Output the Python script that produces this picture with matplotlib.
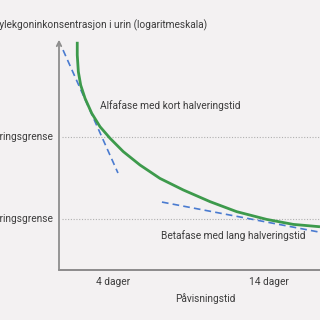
import matplotlib
matplotlib.use("Agg")
import matplotlib.pyplot as plt

# Tid i dager, konsentrasjon (vilkaarlige enheter, log-skala)
curve_days = [1.71, 1.71, 1.78, 1.93, 2.21, 2.64, 3.17, 3.81, 4.66, 5.73,
              7.01, 8.51, 10.22, 11.93, 13.85, 15.56, 17.27]
curve_conc = [14500, 10000, 6250, 4300, 2960, 1945, 1336, 966, 664, 456,
              313, 226, 163, 123, 99, 86, 80.5]

alpha_days = [0.80, 4.32]
alpha_conc = [11500, 364]
beta_days = [7.14, 17.27]
beta_conc = [161, 69]

limit_conc = [1000, 100]
limit_labels = ["Kvantifiseringsgrense", "Kvantifiseringsgrense"]

tick_days = [4, 14]
tick_labels = ["4 dager", "14 dager"]

BG = "#f3f1f2"
TXT = "#3c3c3c"
AXC = "#8e8e8e"
GREEN = "#3d9a4c"
BLUE = "#4a7bd0"
FONT = "Roboto"
FS = 7.3

W = H = 320
fig = plt.figure(figsize=(3.2, 3.2), dpi=100, facecolor=BG)
ax = fig.add_axes([59 / W, 50 / H, 261 / W, 228 / H], facecolor=BG)
ax.set_yscale("log")
ax.set_xlim(0.54, 17.27)
ax.set_ylim(23.9, 14420)

ax.plot(curve_days, curve_conc, color=GREEN, lw=2, solid_joinstyle="round",
        solid_capstyle="butt", zorder=3, clip_on=False)
ax.plot(alpha_days, alpha_conc, color=BLUE, lw=1.2, ls=(0, (4, 2.5)), zorder=2)
ax.plot(beta_days, beta_conc, color=BLUE, lw=1.2, ls=(0, (4, 2.5)), zorder=2)

for c, lab in zip(limit_conc, limit_labels):
    ax.axhline(c, xmin=0.01, color="#b0b0b0", lw=0.8, ls=(0, (1, 1.5)), zorder=1)
    ax.text(-6 / 261, ax.transAxes.inverted().transform(ax.transData.transform((1, c)))[1],
            lab, transform=ax.transAxes, ha="right", va="center",
            fontsize=FS, color=TXT, family=FONT)

for s in ["top", "right", "left"]:
    ax.spines[s].set_visible(False)
ax.spines["bottom"].set_color("#7a7a7a")
ax.spines["bottom"].set_linewidth(1.2)
ax.annotate("", xy=(0, 1.01), xytext=(0, 0), xycoords="axes fraction",
            arrowprops=dict(arrowstyle="->", color=AXC, lw=1.3,
                            shrinkA=0, shrinkB=0, mutation_scale=8))

ax.set_xticks(tick_days)
ax.set_xticklabels(tick_labels, fontsize=FS, color=TXT, family=FONT)
ax.tick_params(axis="x", length=0, pad=5)
ax.set_yticks([])
ax.minorticks_off()
ax.yaxis.set_tick_params(which="both", length=0)

fig.text(207 / W, 1 - 25 / H, "Benzoylekgoninkonsentrasjon i urin (logaritmeskala)",
         ha="right", va="center", fontsize=FS, color=TXT, family=FONT)
fig.text(205 / W, 1 - 299 / H, "Påvisningstid", ha="center", va="center",
         fontsize=FS, color=TXT, family=FONT)
fig.text(100 / W, 1 - 106 / H, "Alfafase med kort halveringstid", ha="left", va="center",
         fontsize=FS, color=TXT, family=FONT)
fig.text(161 / W, 1 - 236 / H, "Betafase med lang halveringstid", ha="left", va="center",
         fontsize=FS, color=TXT, family=FONT)

fig.savefig("out.png", dpi=100, facecolor=BG)
